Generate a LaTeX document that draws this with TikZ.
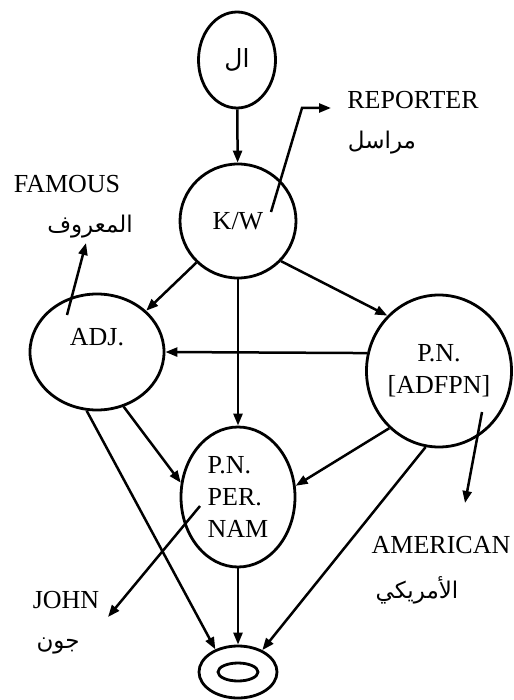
\documentclass[tikz,border=0pt]{standalone}
\usepackage{fontspec}
\setmainfont{Liberation Serif}
\newfontfamily\arabicfont[Script=Arabic]{DejaVu Sans}
\TeXXeTstate=1
\usetikzlibrary{shapes.geometric,arrows.meta}
\tikzset{
  state/.style={draw, ellipse, line width=2.8pt, inner sep=0pt,
    font=\fontsize{26}{32}\selectfont},
  arr/.style={-{Triangle[length=12pt,width=9pt]}, line width=2.5pt},
  word/.style={inner sep=0pt, font=\fontsize{26}{32}\selectfont},
  arword/.style={inner sep=0pt, font=\arabicfont\fontsize{23}{28}\selectfont},
}
\begin{document}
\begin{tikzpicture}[x=1pt,y=-1pt]
    \useasboundingbox (0,0) rectangle (513,700);

    % states
    \node[state, minimum width=77pt, minimum height=96pt] (al) at (237,60) {\arabicfont\fontsize{25}{28}\selectfont\beginR ال\endR};
    \node[state, minimum width=116pt, minimum height=114pt] (kw) at (238,221) {K/W};
    \node[state, minimum width=134pt, minimum height=116pt, text height=17pt, text depth=31pt] (adj) at (97,352) {ADJ.};
    \node[state, minimum width=142pt, minimum height=152pt, align=center] (pn) at (439,371) {P.N.\\{}[ADFPN]};
    \node[state, minimum width=114pt, minimum height=140pt, align=left] (per) at (238,497) {P.N.\\PER.\\NAM};
    \node[state, minimum width=78pt, minimum height=52pt] (fin) at (238,672) {};
    \draw[line width=2.8pt] (fin.center) ellipse (20pt and 9pt);

    % transitions
    \draw[arr] (al) -- (kw);
    \draw[arr] (kw.-135) -- (adj.40);
    \draw[arr] (kw.south) -- (per.north);
    \draw[arr] (kw.-43) -- (pn.133);
    \draw[arr] (pn.166) -- (adj.east);
    \draw[arr] (adj.-64) -- (per.166);
    \draw[arr] (pn.-131) -- (per.11);
    \draw[arr] (adj.-100) -- (fin.135);
    \draw[arr] (per.south) -- (fin.north);
    \draw[arr] (pn.-100) -- (fin.42);

    % glosses
    \node[word] (reporter) at (413,100) {REPORTER};
    \node[arword] (reporterar) at (382,143) {\beginR مراسل\endR};
    \node[word] (famous) at (67,184) {FAMOUS};
    \node[arword] (famousar) at (90,227) {\beginR المعروف\endR};
    \node[word] (american) at (441,545) {AMERICAN};
    \node[arword] (americanar) at (417,590) {\beginR الأمريكي\endR};
    \node[word] (john) at (66,600) {JOHN};
    \node[arword] (johnar) at (58,646) {\beginR جون\endR};

    \coordinate (rep0) at (271,212);
    \coordinate (rep1) at (302,108);
    \coordinate (rep2) at (331,108);
    \coordinate (fam0) at (67,315);
    \coordinate (fam1) at (86,243);
    \coordinate (ame0) at (482,412);
    \coordinate (ame1) at (465,503);
    \coordinate (joh0) at (200,506);
    \coordinate (joh1) at (108,617);

    \draw[arr] (rep0) -- (rep1) -- (rep2);
    \draw[arr] (fam0) -- (fam1);
    \draw[arr] (ame0) -- (ame1);
    \draw[arr] (joh0) -- (joh1);
\end{tikzpicture}
\end{document}
